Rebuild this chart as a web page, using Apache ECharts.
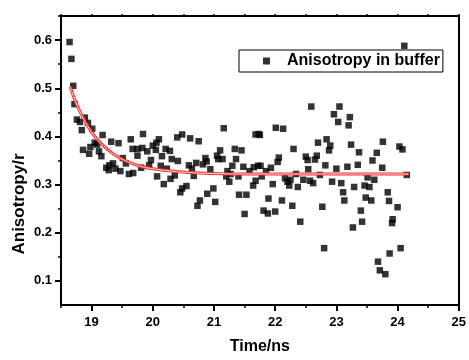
<!DOCTYPE html>
<html>
<head>
<meta charset="utf-8">
<script src="https://cdn.jsdelivr.net/npm/echarts@6/dist/echarts.min.js"></script>
<style>
html,body{margin:0;padding:0;background:#fff;}
#chart{width:469px;height:360px;}
</style>
</head>
<body>
<div id="chart"></div>
<script>
// Measured anisotropy (time in ns, anisotropy r)
var timeNs = [18.64,18.67,18.70,18.72,18.76,18.81,18.84,18.86,18.89,18.94,18.96,18.98,19.01,19.05,19.09,19.12,19.16,19.18,19.24,19.28,19.29,19.32,19.35,19.39,19.44,19.47,19.51,19.56,19.61,19.64,19.67,19.68,19.75,19.75,19.81,19.83,19.84,19.91,19.94,19.97,20.00,20.05,20.06,20.07,20.10,20.13,20.15,20.18,20.21,20.23,20.28,20.29,20.31,20.36,20.40,20.41,20.45,20.48,20.48,20.55,20.59,20.61,20.64,20.67,20.71,20.73,20.75,20.77,20.82,20.86,20.88,20.89,20.94,20.99,21.02,21.05,21.07,21.10,21.14,21.16,21.20,21.22,21.25,21.27,21.30,21.34,21.36,21.40,21.41,21.45,21.48,21.50,21.53,21.58,21.64,21.65,21.68,21.68,21.72,21.73,21.75,21.76,21.78,21.81,21.85,21.88,21.89,21.93,21.96,22.00,22.01,22.04,22.06,22.11,22.13,22.16,22.20,22.23,22.25,22.28,22.30,22.34,22.37,22.41,22.46,22.50,22.53,22.54,22.57,22.59,22.62,22.65,22.68,22.70,22.73,22.77,22.80,22.82,22.84,22.88,22.90,22.93,22.96,23.00,23.03,23.05,23.08,23.11,23.13,23.18,23.20,23.22,23.24,23.27,23.29,23.35,23.37,23.40,23.42,23.46,23.48,23.51,23.54,23.57,23.59,23.62,23.66,23.68,23.71,23.75,23.76,23.80,23.84,23.86,23.87,23.91,23.92,24.00,24.03,24.05,24.08,24.11,24.15];
var anisotropy = [0.596,0.561,0.505,0.467,0.435,0.430,0.413,0.372,0.439,0.428,0.364,0.378,0.416,0.387,0.383,0.369,0.359,0.403,0.335,0.330,0.340,0.389,0.344,0.333,0.386,0.328,0.355,0.344,0.322,0.394,0.374,0.324,0.374,0.360,0.335,0.376,0.405,0.369,0.340,0.351,0.381,0.372,0.387,0.317,0.394,0.339,0.359,0.301,0.374,0.333,0.370,0.312,0.353,0.319,0.398,0.349,0.284,0.404,0.292,0.297,0.340,0.396,0.333,0.318,0.345,0.256,0.390,0.267,0.342,0.355,0.348,0.281,0.332,0.292,0.264,0.360,0.353,0.371,0.353,0.417,0.317,0.328,0.306,0.322,0.339,0.374,0.353,0.317,0.279,0.371,0.337,0.239,0.279,0.328,0.298,0.336,0.404,0.308,0.339,0.405,0.403,0.339,0.317,0.246,0.328,0.240,0.271,0.335,0.301,0.244,0.418,0.347,0.356,0.267,0.416,0.313,0.306,0.298,0.310,0.256,0.374,0.322,0.295,0.223,0.310,0.358,0.351,0.332,0.308,0.462,0.303,0.352,0.360,0.387,0.320,0.254,0.168,0.340,0.394,0.371,0.381,0.306,0.446,0.333,0.430,0.462,0.303,0.284,0.267,0.337,0.423,0.440,0.383,0.211,0.295,0.341,0.367,0.246,0.223,0.298,0.273,0.315,0.295,0.267,0.350,0.310,0.366,0.140,0.122,0.335,0.389,0.114,0.284,0.266,0.157,0.220,0.228,0.253,0.379,0.168,0.373,0.588,0.320];

// Fitted decay curve
var fitTime  = [18.65,18.80,19.00,19.20,19.40,19.60,19.80,20.00,20.30,20.60,21.00,21.50,22.00,23.00,24.18];
var fitValue = [0.503,0.454,0.409,0.380,0.360,0.347,0.338,0.333,0.328,0.325,0.323,0.322,0.322,0.322,0.322];

var seriesName = 'Anisotropy in buffer';
var xMajorTicks = [19,20,21,22,23,24,25];
var xMinorTicks = [18.5,19.5,20.5,21.5,22.5,23.5,24.5];
var yMajorTicks = [0.1,0.2,0.3,0.4,0.5,0.6];
var yMinorTicks = [0.15,0.25,0.35,0.45,0.55,0.65];
var xTitle = 'Time/ns';
var yTitle = 'Anisotropy/r';

var scatterData = timeNs.map(function(t,i){return [t, anisotropy[i]];});
var fitData = fitTime.map(function(t,i){return [t, fitValue[i]];});

var FONT = 'Liberation Sans, Arial, sans-serif';
var axisLineStyle = {color:'#000', width:2};

var chart = echarts.init(document.getElementById('chart'), null, {renderer:'canvas'});
chart.setOption({
  animation:false,
  backgroundColor:'#fff',
  grid:{left:61, right:7, top:16, bottom:48, containLabel:false},
  legend:{
    data:[seriesName],
    left:239, top:50,
    orient:'horizontal',
    padding:[2,3,2,24],
    itemWidth:7, itemHeight:7,
    icon:'rect',
    borderColor:'#000', borderWidth:1, borderRadius:0,
    backgroundColor:'#fff',
    textStyle:{fontFamily:FONT, fontWeight:'bold', fontSize:16, color:'#000', lineHeight:18, padding:[0,0,0,12]}
  },
  xAxis:[
    {type:'value', min:18.5, max:25, position:'bottom',
     axisLine:{show:true, onZero:false, lineStyle:axisLineStyle},
     axisTick:{show:true, inside:false, length:6, customValues:xMajorTicks, lineStyle:{color:'#000', width:2}},
     axisLabel:{show:true, customValues:xMajorTicks, margin:11, fontFamily:FONT, fontWeight:'bold', fontSize:13, color:'#000',
       formatter:function(v){return String(Math.round(v));}},
     splitLine:{show:false},
     name:xTitle, nameLocation:'middle', nameGap:34,
     nameTextStyle:{fontFamily:FONT, fontWeight:'bold', fontSize:16, color:'#000'}},
    {type:'value', min:18.5, max:25, position:'bottom', gridIndex:0,
     axisLine:{show:false, onZero:false},
     axisTick:{show:true, inside:false, length:3, customValues:xMinorTicks, lineStyle:{color:'#000', width:1.5}},
     axisLabel:{show:false}, splitLine:{show:false}},
    {type:'value', min:18.5, max:25, position:'top', gridIndex:0,
     axisLine:{show:true, onZero:false, lineStyle:axisLineStyle},
     axisTick:{show:true, inside:false, length:2, customValues:xMajorTicks.concat(xMinorTicks), lineStyle:{color:'#000', width:1.5}},
     axisLabel:{show:false}, splitLine:{show:false}}
  ],
  yAxis:[
    {type:'value', min:0.05, max:0.65, position:'left',
     axisLine:{show:true, onZero:false, lineStyle:axisLineStyle},
     axisTick:{show:true, inside:false, length:6, customValues:yMajorTicks, lineStyle:{color:'#000', width:2}},
     axisLabel:{show:true, customValues:yMajorTicks, margin:9, fontFamily:FONT, fontWeight:'bold', fontSize:13, color:'#000',
       formatter:function(v){return v.toFixed(1);}},
     splitLine:{show:false}},
    {type:'value', min:0.05, max:0.65, position:'left', gridIndex:0,
     axisLine:{show:false, onZero:false},
     axisTick:{show:true, inside:false, length:3, customValues:yMinorTicks, lineStyle:{color:'#000', width:1.5}},
     axisLabel:{show:false}, splitLine:{show:false}},
    {type:'value', min:0.05, max:0.65, position:'right', gridIndex:0,
     axisLine:{show:true, onZero:false, lineStyle:axisLineStyle},
     axisTick:{show:false}, axisLabel:{show:false}, splitLine:{show:false}}
  ],
  graphic:[
    {type:'text', x:19, y:204, rotation:Math.PI/2, z:10,
     style:{text:yTitle, fontFamily:FONT, fontWeight:'bold', fontSize:17, fill:'#000', align:'center', verticalAlign:'middle'}}
  ],
  series:[
    {name:seriesName, type:'scatter', xAxisIndex:0, yAxisIndex:0, data:scatterData,
     symbol:'rect', symbolSize:6.5, itemStyle:{color:'#000'}, z:2},
    {name:'fit', type:'line', xAxisIndex:0, yAxisIndex:0, data:fitData, smooth:true, showSymbol:false, symbol:'none',
     lineStyle:{color:'#f03030', width:3}, z:3, silent:true},
    {name:'fit-inner', type:'line', xAxisIndex:0, yAxisIndex:0, data:fitData, smooth:true, showSymbol:false, symbol:'none',
     lineStyle:{color:'#ffd6d6', width:1}, z:4, silent:true}
  ]
});
</script>
</body>
</html>
